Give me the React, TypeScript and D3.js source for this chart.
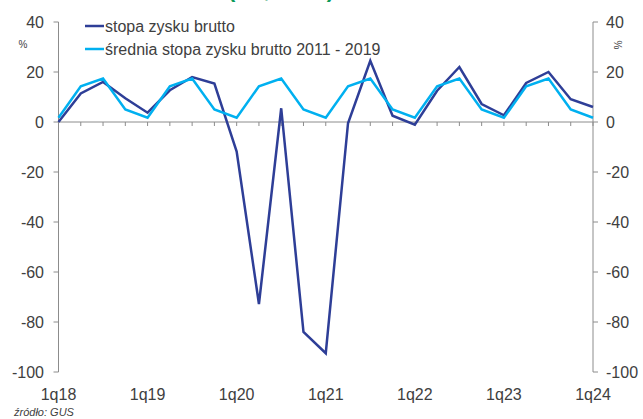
import React from "react";
import * as d3 from "d3";

const quarters: string[] = [
  "1q18","2q18","3q18","4q18",
  "1q19","2q19","3q19","4q19",
  "1q20","2q20","3q20","4q20",
  "1q21","2q21","3q21","4q21",
  "1q22","2q22","3q22","4q22",
  "1q23","2q23","3q23","4q23",
  "1q24",
];
const grossProfit: number[] = [
  0, 11.4, 16, 9.5, 3.7, 12.7, 18, 15.4,
  -11.8, -72.8, 5.5, -84, -92.5, -0.5, 24.5, 2.5,
  -1.1, 12.5, 22, 7.2, 2.7, 15.6, 20, 9.1, 6,
];
const avgProfit: number[] = [
  1.7, 14.3, 17.4, 5.0, 1.7, 14.3, 17.4, 5.0,
  1.7, 14.3, 17.4, 5.0, 1.7, 14.3, 17.4, 5.0,
  1.7, 14.3, 17.4, 5.0, 1.7, 14.3, 17.4, 5.0, 1.7,
];
const yTicks: number[] = [40, 20, 0, -20, -40, -60, -80, -100];
const xLabels: string[] = ["1q18", "1q19", "1q20", "1q21", "1q22", "1q23", "1q24"];
const seriesNames: string[] = ["stopa zysku brutto", "średnia stopa zysku brutto 2011 - 2019"];
const titleText = "(r/r, w %)";
const sourceText = "źródło: GUS";

const W = 643, H = 419;
const left = 58.5, right = 593;
const top = 22, bottom = 372;
const DARK = "#2E3E97";
const LIGHT = "#00B0F0";
const TEXT = "#404040";
const AXIS = "#8C8C8C";
const FONT = "Arial, 'Liberation Sans', sans-serif";

export default function App() {
  const x = d3.scaleLinear().domain([0, quarters.length - 1]).range([left, right]);
  const y = d3.scaleLinear().domain([-100, 40]).range([bottom, top]);
  const line = d3.line<number>().x((_, i) => x(i)).y((d) => y(d));
  const y0 = y(0);

  return (
    <svg width={W} height={H} style={{ position: "absolute", left: 0, top: 0, background: "#fff" }} fontFamily={FONT}>
      <rect x={0} y={0} width={W} height={H} fill="#fff" />
      <text x={281} y={-3} textAnchor="middle" fontSize={22} fontWeight="bold" fill="#0A9A5A" textLength={106} lengthAdjust="spacing">{titleText}</text>

      {/* left axis */}
      <line x1={left} x2={left} y1={top} y2={bottom} stroke={AXIS} strokeWidth={1} />
      {yTicks.map((t) => (
        <g key={"l" + t}>
          <line x1={left - 5} x2={left} y1={y(t)} y2={y(t)} stroke={AXIS} />
          <text x={44} y={y(t)} dy="0.35em" textAnchor="end" fontSize={16} fill={TEXT}>{t}</text>
        </g>
      ))}
      {/* right axis */}
      <line x1={right} x2={right} y1={top} y2={bottom} stroke={AXIS} strokeWidth={1} />
      {yTicks.map((t) => (
        <g key={"r" + t}>
          <line x1={right} x2={right + 5} y1={y(t)} y2={y(t)} stroke={AXIS} />
          <text x={606} y={y(t)} dy="0.35em" textAnchor="start" fontSize={16} fill={TEXT}>{t}</text>
        </g>
      ))}
      <text x={23} y={48} textAnchor="middle" fontSize={10} fill={TEXT}>%</text>
      <text transform={`translate(614,45) rotate(90)`} textAnchor="middle" fontSize={10} fill={TEXT}>%</text>

      {/* x axis at 0 */}
      <line x1={left} x2={right} y1={y0} y2={y0} stroke={AXIS} strokeWidth={1} />
      {quarters.map((q, i) => (
        <line key={q} x1={x(i)} x2={x(i)} y1={y0} y2={y0 + 4} stroke={AXIS} />
      ))}
      {quarters.map((q, i) =>
        xLabels.includes(q) ? (
          <text key={"xl" + q} x={x(i)} y={400} textAnchor="middle" fontSize={16} fill={TEXT}>{q}</text>
        ) : null
      )}

      <path d={line(grossProfit) || ""} fill="none" stroke={DARK} strokeWidth={2.5} strokeLinejoin="miter" />
      <path d={line(avgProfit) || ""} fill="none" stroke={LIGHT} strokeWidth={2.5} strokeLinejoin="miter" />

      {/* legend */}
      <line x1={85} x2={104} y1={26} y2={26} stroke={DARK} strokeWidth={2.5} />
      <text x={105} y={26} dy="0.35em" fontSize={16} fill={TEXT}>{seriesNames[0]}</text>
      <line x1={85} x2={104} y1={49} y2={49} stroke={LIGHT} strokeWidth={2.5} />
      <text x={105} y={49} dy="0.35em" fontSize={16} fill={TEXT}>{seriesNames[1]}</text>

      <text x={14} y={416} fontSize={11} fontStyle="italic" fill={TEXT}>{sourceText}</text>
    </svg>
  );
}
